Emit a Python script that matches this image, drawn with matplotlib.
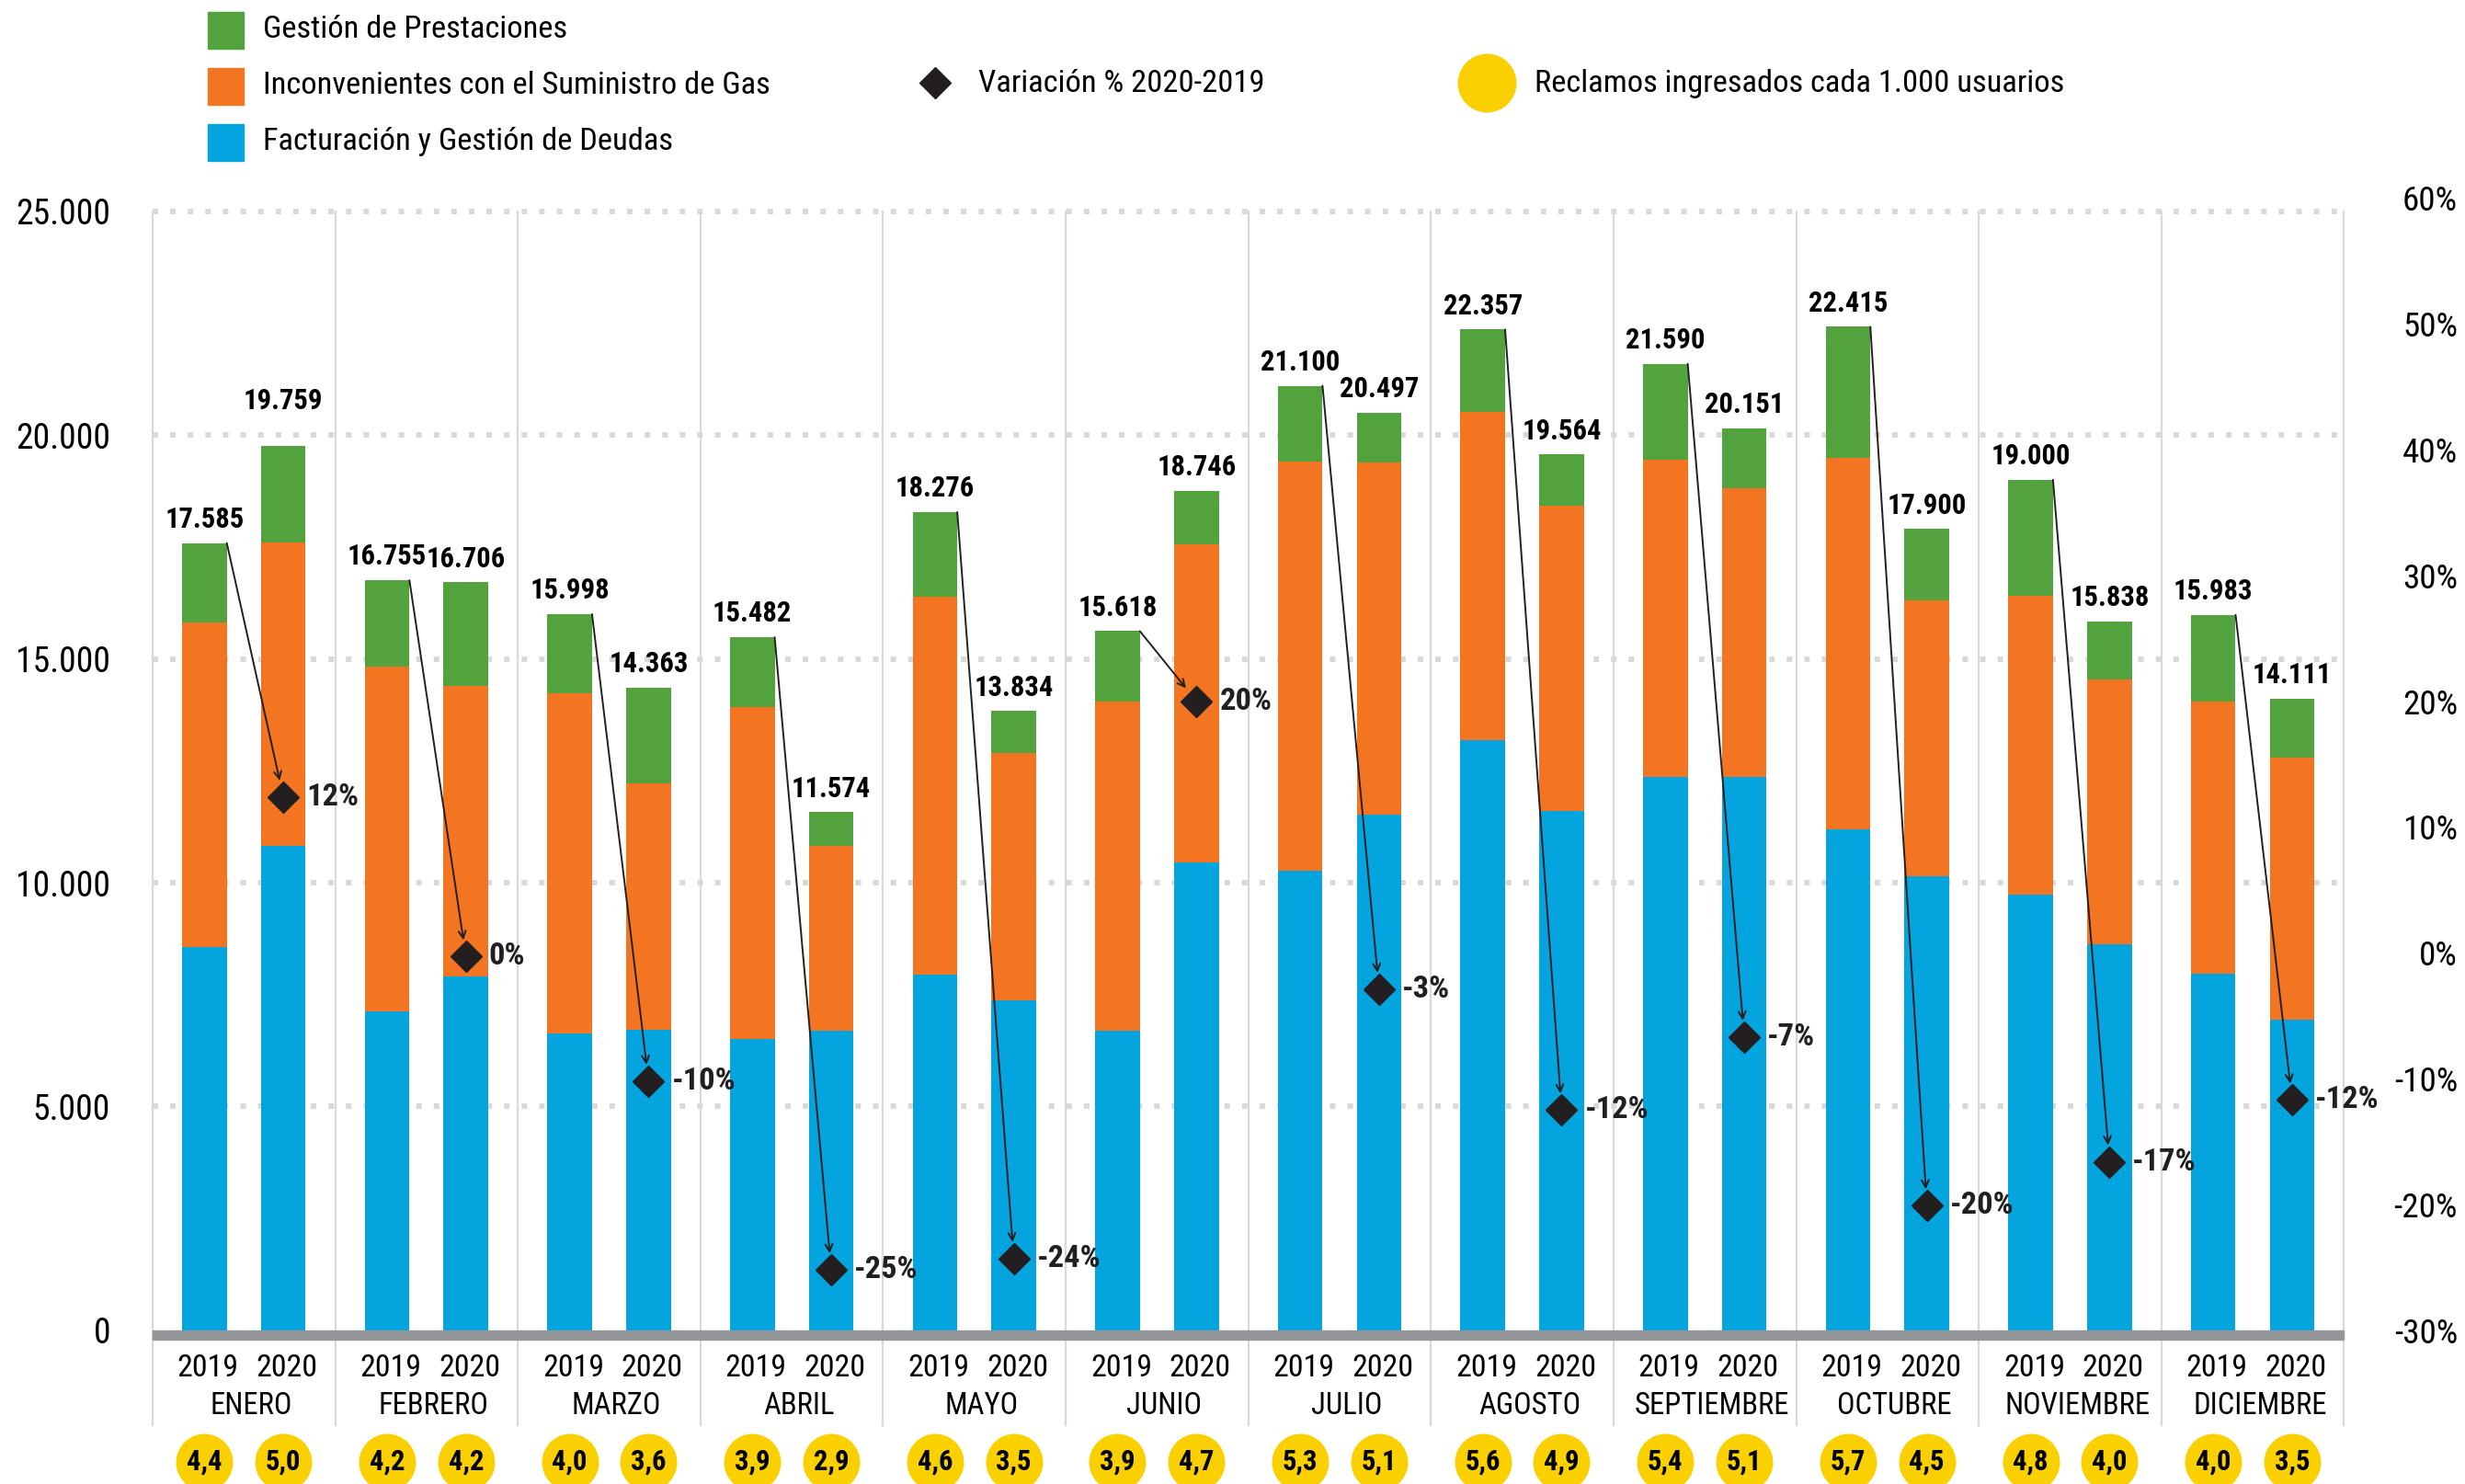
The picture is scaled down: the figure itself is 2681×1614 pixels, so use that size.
import os
import numpy as np
import matplotlib
matplotlib.use('Agg')
import matplotlib.pyplot as plt
import matplotlib.font_manager as fm
import matplotlib.transforms as mtransforms
from matplotlib.lines import Line2D
from matplotlib.patches import Rectangle

# data
meses = ['ENERO', 'FEBRERO', 'MARZO', 'ABRIL', 'MAYO', 'JUNIO', 'JULIO',
         'AGOSTO', 'SEPTIEMBRE', 'OCTUBRE', 'NOVIEMBRE', 'DICIEMBRE']

# 2019 segments
fact_2019 = [8560, 7130, 6640, 6500, 7950, 6700, 10270, 13190, 12370, 11200, 9740, 7960]
inc_2019 = [7260, 7690, 7600, 7420, 8440, 7340, 9140, 7330, 7080, 8290, 6670, 6090]
gest_2019 = [1765, 1935, 1758, 1562, 1886, 1578, 1690, 1837, 2140, 2925, 2590, 1933]
total_2019 = [17585, 16755, 15998, 15482, 18276, 15618, 21100, 22357, 21590, 22415, 19000, 15983]

# 2020 segments
fact_2020 = [10820, 7900, 6710, 6700, 7370, 10460, 11520, 11600, 12370, 10150, 8630, 6940]
inc_2020 = [6780, 6490, 5510, 4130, 5520, 7100, 7870, 6820, 6430, 6160, 5910, 5845]
gest_2020 = [2159, 2316, 2143, 744, 944, 1186, 1107, 1144, 1351, 1590, 1298, 1326]
total_2020 = [19759, 16706, 14363, 11574, 13834, 18746, 20497, 19564, 20151, 17900, 15838, 14111]

variacion = [12.4, -0.3, -10.2, -25.2, -24.3, 20.0, -2.9, -12.5, -6.7, -20.1, -16.6, -11.7]
variacion_txt = ['12%', '0%', '-10%', '-25%', '-24%', '20%', '-3%', '-12%', '-7%', '-20%', '-17%', '-12%']

reclamos_2019 = [4.4, 4.2, 4.0, 3.9, 4.6, 3.9, 5.3, 5.6, 5.4, 5.7, 4.8, 4.0]
reclamos_2020 = [5.0, 4.2, 3.6, 2.9, 3.5, 4.7, 5.1, 4.9, 5.1, 4.5, 4.0, 3.5]

GREEN = '#52A33E'
ORANGE = '#F37522'
BLUE = '#04A5DF'
YELLOW = '#FAD000'
DARK = '#231F20'
GRID = '#D9D9D9'
BASE = '#939598'


# condensed font if there is one
def find_font(names):
    files = {os.path.basename(f.fname).lower(): f.fname for f in fm.fontManager.ttflist}
    for n in names:
        if n in files:
            return files[n]
    return None


REG = find_font(['liberationsansnarrow-regular.ttf', 'robotocondensed-regular.ttf',
                 'dejavusanscondensed.ttf'])
BOLD = find_font(['liberationsansnarrow-bold.ttf', 'robotocondensed-bold.ttf',
                  'dejavusanscondensed-bold.ttf'])
K = 1.0
if REG is None:
    K = 0.82
elif 'roboto' in REG.lower():
    K = 0.92
elif 'dejavu' in REG.lower():
    K = 0.8


def fp(size, bold=False):
    path = BOLD if bold else REG
    if path:
        return fm.FontProperties(fname=path, size=size * K)
    return fm.FontProperties(family='Roboto', weight='bold' if bold else 'normal', size=size * K)


fig = plt.figure(figsize=(26.81, 16.14), dpi=100)
ax = fig.add_axes([0.0619, 0.1035, 0.889, 0.7633])
ax2 = ax.twinx()

x = np.arange(len(meses))
off = 0.216
w = 0.245
x19 = x - off
x20 = x + off

for xs, f, inc, g in [(x19, fact_2019, inc_2019, gest_2019), (x20, fact_2020, inc_2020, gest_2020)]:
    f = np.array(f)
    inc = np.array(inc)
    ax.bar(xs, f, w, color=BLUE, zorder=3)
    ax.bar(xs, inc, w, bottom=f, color=ORANGE, zorder=3)
    ax.bar(xs, g, w, bottom=f + inc, color=GREEN, zorder=3)

# totals above bars (enero 2020 sits a bit higher in the original)
for yr, xs, tot in [(2019, x19, total_2019), (2020, x20, total_2020)]:
    for i, (xi, t) in enumerate(zip(xs, tot)):
        lift = 12 + (17 if (yr == 2020 and i == 0) else 0)
        ax.annotate(f'{t:,}'.replace(',', '.'), (xi, t), xytext=(0, lift),
                    textcoords='offset points', ha='center', va='baseline',
                    fontproperties=fp(24, True), color='black', zorder=6)

ax.set_xlim(-0.5, 11.5)
ax.set_ylim(0, 25300)
ax2.set_ylim(-30, 60)

# grid
for yv in [5000, 10000, 15000, 20000, 25000]:
    ax.axhline(yv, color=GRID, lw=4.3, linestyle=(0, (1, 2.2)), zorder=1)

trans = mtransforms.blended_transform_factory(ax.transData, ax.transAxes)
for xv in np.arange(-0.5, 12, 1):
    ax.plot([xv, xv], [-0.0835, 25000 / 25300], color=GRID, lw=1.6, transform=trans,
            clip_on=False, zorder=1)
ax.add_patch(Rectangle((-0.5, -0.008), 12, 0.008, transform=trans, color=BASE,
                       clip_on=False, zorder=4))

# axis labels under the bars
for i in range(len(meses)):
    ax.text(x19[i] + 0.02, -0.0335, '2019', transform=trans, ha='center', va='center',
            fontproperties=fp(26.5))
    ax.text(x20[i] + 0.02, -0.0335, '2020', transform=trans, ha='center', va='center',
            fontproperties=fp(26.5))
    ax.text(x[i] + 0.04, -0.0665, meses[i], transform=trans, ha='center', va='center',
            fontproperties=fp(25.5))

# yellow circles
xc = np.concatenate([x19, x20])
rc = reclamos_2019 + reclamos_2020
ax.scatter(xc, [-0.116] * len(xc), s=1990, color=YELLOW, transform=trans,
           clip_on=False, zorder=5, linewidths=0)
for xi, r in zip(xc, rc):
    ax.text(xi, -0.116, f'{r:.1f}'.replace('.', ','), transform=trans, ha='center',
            va='center', fontproperties=fp(24, True), zorder=6)

# ticks
ax.set_yticks([0, 5000, 10000, 15000, 20000, 25000])
ax.set_yticklabels(['0', '5.000', '10.000', '15.000', '20.000', '25.000'])
ax.tick_params(axis='y', length=0, pad=33)
ax.set_xticks([])
for lab in ax.get_yticklabels():
    lab.set_fontproperties(fp(29.5))

ax2.set_yticks(range(-30, 61, 10))
ax2.set_yticklabels([f'{v}%' for v in range(-30, 61, 10)])
ax2.tick_params(axis='y', length=0, pad=89)
for lab in ax2.get_yticklabels():
    lab.set_fontproperties(fp(29))
    lab.set_horizontalalignment('right')

for a in (ax, ax2):
    for s in a.spines.values():
        s.set_visible(False)

# diamonds and arrows
ax2.plot(x20, variacion, linestyle='none', marker='D', markersize=17, color=DARK, zorder=8)
for i in range(len(meses)):
    ax2.annotate('', xy=(x20[i], variacion[i]), xycoords='data',
                 xytext=(x19[i] + w / 2, total_2019[i]), textcoords=ax.transData,
                 arrowprops=dict(arrowstyle='->', lw=1.4, color=DARK, shrinkA=0,
                                 shrinkB=13, mutation_scale=14), zorder=7)
    ax2.annotate(variacion_txt[i], (x20[i], variacion[i]), xytext=(18, 0),
                 textcoords='offset points', ha='left', va='center',
                 fontproperties=fp(27, True), color=DARK, zorder=8)

# legend at top
W, H = 2681.0, 1614.0
for yc, col, lab in [(33, GREEN, 'Gestión de Prestaciones'),
                     (94, ORANGE, 'Inconvenientes con el Suministro de Gas'),
                     (155, BLUE, 'Facturación y Gestión de Deudas')]:
    fig.add_artist(Rectangle((226 / W, 1 - (yc + 19.5) / H), 39 / W, 39 / H,
                             transform=fig.transFigure, color=col))
    fig.text(286 / W, 1 - (yc - 1) / H, lab, ha='left', va='center', fontproperties=fp(27))

fig.add_artist(Line2D([1017 / W], [1 - 90 / H], marker='D', markersize=17, color=DARK,
                      linestyle='none', transform=fig.transFigure))
fig.text(1064 / W, 1 - 91 / H, 'Variación % 2020-2019', ha='left', va='center',
         fontproperties=fp(27))
fig.add_artist(Line2D([1617 / W], [1 - 90 / H], marker='o', markersize=46, color=YELLOW,
                      linestyle='none', markeredgewidth=0, transform=fig.transFigure))
fig.text(1669 / W, 1 - 91 / H, 'Reclamos ingresados cada 1.000 usuarios', ha='left',
         va='center', fontproperties=fp(27))

fig.savefig('out.png', dpi=100, facecolor='white')
